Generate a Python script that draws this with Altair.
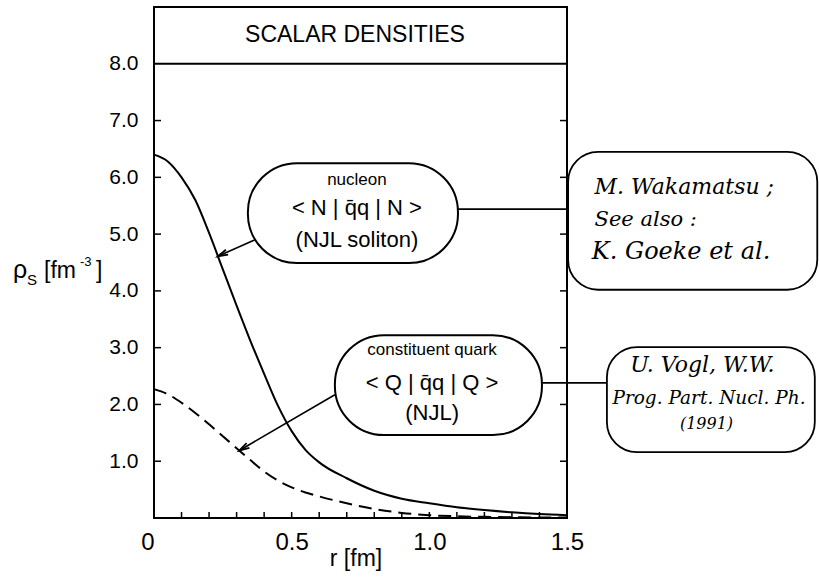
import math
import altair as alt
import pandas as pd

# ---------------- data ----------------
r_nucleon = [0.00, 0.05, 0.10, 0.15, 0.20, 0.25, 0.30, 0.35, 0.40, 0.45, 0.50,
             0.55, 0.60, 0.70, 0.80, 0.90, 1.00, 1.10, 1.20, 1.30, 1.40, 1.50]
rho_nucleon = [6.40, 6.28, 6.00, 5.60, 5.02, 4.38, 3.74, 3.12, 2.54, 1.98, 1.53,
               1.20, 0.98, 0.70, 0.48, 0.34, 0.26, 0.19, 0.14, 0.10, 0.07, 0.05]

r_quark = [0.00, 0.05, 0.10, 0.15, 0.20, 0.25, 0.30, 0.35, 0.40, 0.45, 0.50,
           0.55, 0.60, 0.70, 0.80, 0.90, 1.00, 1.10, 1.20, 1.30, 1.40, 1.50]
rho_quark = [2.27, 2.18, 2.03, 1.85, 1.65, 1.44, 1.23, 1.02, 0.82, 0.66, 0.54,
             0.45, 0.38, 0.26, 0.16, 0.09, 0.05, 0.03, 0.02, 0.015, 0.01, 0.01]

x_tick_labels = [0.0, 0.5, 1.0, 1.5]
x_minor_ticks = [0.1, 0.2, 0.3, 0.4, 0.5, 0.6, 0.7, 0.8, 0.9, 1.0, 1.1, 1.2, 1.3, 1.4]
y_tick_labels = [1.0, 2.0, 3.0, 4.0, 5.0, 6.0, 7.0, 8.0]
y_ticks = [1.0, 2.0, 3.0, 4.0, 5.0, 6.0, 7.0]
title_line = [8.0]

title_text = "SCALAR DENSITIES"
x_title = "r [fm]"

# annotation bubbles (data coordinates)
bubble_x0 = [0.341, 0.657]
bubble_x1 = [1.104, 1.409]
bubble_y0 = [4.49, 1.46]
bubble_y1 = [6.25, 3.22]

bubble_lines = ["nucleon", "< N | q̄q | N >", "(NJL soliton)",
                "constituent quark", "< Q | q̄q | Q >", "(NJL)"]
bubble_line_x = [0.737, 0.737, 0.737, 1.01, 1.01, 1.01]
bubble_line_y = [5.95, 5.46, 4.90, 2.96, 2.38, 1.85]
bubble_line_fs = [17, 22, 22, 17, 22, 22]

# arrows from bubbles to curves
arrow_x0 = [0.367, 0.657]
arrow_y0 = [4.90, 2.17]
arrow_x1 = [0.232, 0.310]
arrow_y1 = [4.61, 1.19]

# connector lines from bubbles to reference boxes
conn_x0 = [1.104, 1.409]
conn_x1 = [1.504, 1.645]
conn_y = [5.44, 2.38]

# hand-written reference boxes
ref_x0 = [1.504, 1.645]
ref_x1 = [2.409, 2.400]
ref_y0 = [4.02, 1.16]
ref_y1 = [6.45, 3.01]

ref_lines = ["M. Wakamatsu ;", "See also :", "K. Goeke et al.",
             "U. Vogl, W.W.", "Prog. Part. Nucl. Ph.", "(1991)"]
ref_line_x = [1.60, 1.60, 1.59, 1.73, 1.665, 1.91]
ref_line_y = [5.83, 5.25, 4.68, 2.69, 2.11, 1.66]
ref_line_fs = [22, 21, 24, 22, 18.5, 16]

# ---------------- layout ----------------
W, H = 413, 511
PAD_L, PAD_T = 154, 7
FONT = "Liberation Sans"
HAND = "DejaVu Serif"

x_scale = alt.Scale(domain=[0, 1.5], nice=False, zero=False)
y_scale = alt.Scale(domain=[0, 9], nice=False, zero=False)

x_axis = alt.Axis(values=x_tick_labels, title=None, grid=False, domain=False,
                  ticks=False, tickSize=0, labelFontSize=24, labelFont=FONT,
                  labelColor="black", labelPadding=12, labelFlush=False,
                  labelExpr="datum.value == 0 ? '0' : format(datum.value, '.1f')",
                  labelAlign={"condition": {"test": "datum.value == 0", "value": "right"},
                              "value": "center"})
y_axis = alt.Axis(values=y_tick_labels, title=None, grid=False, domain=False,
                  ticks=False, tickSize=0, labelFontSize=21, labelFont=FONT,
                  labelColor="black", labelPadding=16, format=".1f")


def X(f):
    return alt.X(f, type="quantitative", scale=x_scale, axis=x_axis)


def Y(f):
    return alt.Y(f, type="quantitative", scale=y_scale, axis=y_axis)


curves_n = pd.DataFrame({"r": r_nucleon, "rho": rho_nucleon})
curves_q = pd.DataFrame({"r": r_quark, "rho": rho_quark})

nucleon = alt.Chart(curves_n).mark_line(color="black", strokeWidth=2, interpolate="monotone").encode(
    x=X("r"), y=Y("rho"))
quark = alt.Chart(curves_q).mark_line(color="black", strokeWidth=2, interpolate="monotone",
                                      strokeDash=[13, 7]).encode(x=X("r"), y=Y("rho"))

hline = alt.Chart(pd.DataFrame({"y": title_line})).mark_rule(color="black", strokeWidth=2).encode(y=Y("y"))

yt = pd.DataFrame({"y": y_ticks})
ytick_left = alt.Chart(yt).mark_rule(color="black", strokeWidth=1.5).encode(
    y=Y("y"), x=alt.value(0), x2=alt.value(7))
ytick_right = alt.Chart(yt).mark_rule(color="black", strokeWidth=1.5).encode(
    y=Y("y"), x=alt.value(W - 7), x2=alt.value(W))
xt = pd.DataFrame({"x": x_minor_ticks})
xtick = alt.Chart(xt).mark_rule(color="black", strokeWidth=1.5).encode(
    x=X("x"), y=alt.value(H), y2=alt.value(H - 6))

bub = pd.DataFrame({"x0": bubble_x0, "x1": bubble_x1, "y0": bubble_y0, "y1": bubble_y1})
bubbles = alt.Chart(bub).mark_rect(fill="white", stroke="black", strokeWidth=2, cornerRadius=49).encode(
    x=X("x0"), x2="x1", y=Y("y0"), y2="y1")

btxt = pd.DataFrame({"t": bubble_lines, "x": bubble_line_x, "y": bubble_line_y, "fs": bubble_line_fs})
bubble_text = alt.Chart(btxt).mark_text(font=FONT, color="black", baseline="middle", align="center").encode(
    x=X("x"), y=Y("y"), text="t:N", size=alt.Size("fs:Q", scale=None, legend=None))

arr = pd.DataFrame({"x0": arrow_x0, "y0": arrow_y0, "x1": arrow_x1, "y1": arrow_y1})
sx, sy = W / 1.5, H / 9.0
arr["ang"] = [
    (math.degrees(math.atan2((b - a) * sx, (d - c) * sy)) + 360) % 360
    for a, b, c, d in zip(arrow_x0, arrow_x1, arrow_y0, arrow_y1)
]
arrows = alt.Chart(arr).mark_rule(color="black", strokeWidth=1.6).encode(
    x=X("x0"), x2="x1", y=Y("y0"), y2="y1")
heads = alt.Chart(arr).mark_point(shape="M-0.55,2 L0,0 L0.55,2", filled=False, color="black",
                                  size=100, strokeWidth=1.8, opacity=1).encode(
    x=X("x1"), y=Y("y1"), angle=alt.Angle("ang:Q", scale=None))

con = pd.DataFrame({"x0": conn_x0, "x1": conn_x1, "y": conn_y})
connectors = alt.Chart(con).mark_rule(color="black", strokeWidth=1.6).encode(
    x=X("x0"), x2="x1", y=Y("y"))

ref = pd.DataFrame({"x0": ref_x0, "x1": ref_x1, "y0": ref_y0, "y1": ref_y1})
refboxes = alt.Chart(ref).mark_rect(fill="white", stroke="black", strokeWidth=1.8, cornerRadius=30).encode(
    x=X("x0"), x2="x1", y=Y("y0"), y2="y1")

rtxt = pd.DataFrame({"t": ref_lines, "x": ref_line_x, "y": ref_line_y, "fs": ref_line_fs})
ref_text = alt.Chart(rtxt).mark_text(font=HAND, fontStyle="italic", color="black", baseline="middle",
                                     align="left").encode(
    x=X("x"), y=Y("y"), text="t:N", size=alt.Size("fs:Q", scale=None, legend=None))

title = alt.Chart(pd.DataFrame({"t": [title_text], "x": [0.73], "y": [8.5]})).mark_text(
    font=FONT, fontSize=23, color="black", baseline="middle", align="center").encode(
    x=X("x"), y=Y("y"), text="t:N")

xtitle = alt.Chart(pd.DataFrame({"t": [x_title]})).mark_text(
    font=FONT, fontSize=23, color="black", baseline="middle", align="center").encode(
    text="t:N", x=alt.value(356 - PAD_L), y=alt.value(559 - PAD_T))

# y-axis title: rho_S [fm^-3]
yparts = ["ρ", "S", "[fm", "-3", "]"]
ypart_x = [13, 27, 44, 80, 96]
ypart_y = [278, 285, 278, 266, 278]
ypart_fs = [25, 15, 23, 13, 23]
ytd = pd.DataFrame({"t": yparts, "px": [v - PAD_L for v in ypart_x],
                    "py": [v - PAD_T for v in ypart_y], "fs": ypart_fs})
ytitle = alt.Chart(ytd).mark_text(font=FONT, color="black", baseline="alphabetic", align="left").encode(
    text="t:N",
    x=alt.X("px:Q", scale=None, axis=None),
    y=alt.Y("py:Q", scale=None, axis=None),
    size=alt.Size("fs:Q", scale=None, legend=None))

full = alt.layer(
    nucleon, quark, hline, ytick_left, ytick_right, xtick,
    arrows, heads, connectors, bubbles, bubble_text, refboxes, ref_text, title, xtitle, ytitle,
).resolve_scale(x="shared", y="shared").properties(
    width=W, height=H,
    autosize=alt.AutoSizeParams(type="none"),
    padding={"left": PAD_L, "top": PAD_T, "right": 819 - PAD_L - W, "bottom": 586 - PAD_T - H},
    background="white",
).configure_view(stroke="black", strokeWidth=2)

full.save("out.html", embed_options={"renderer": "svg", "actions": False})
